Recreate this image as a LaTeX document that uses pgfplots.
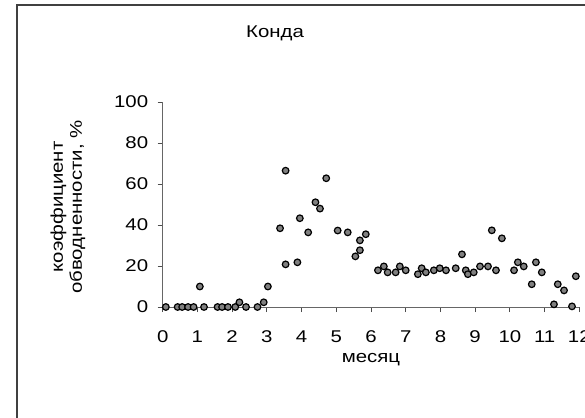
\documentclass[border=0pt]{standalone}
\usepackage{fontspec}
\setmainfont[FakeStretch=1.2]{Liberation Sans}
\usepackage{pgfplots}
\pgfplotsset{compat=1.18}

\pgfplotstableread{
x y
0.09 0
0.43 0
0.56 0
0.73 0
0.89 0
1.07 10
1.19 0
1.58 0
1.71 0
1.88 0
2.09 0
2.21 2.3
2.40 0
2.73 0
2.91 2.3
3.03 10
3.38 38.4
3.54 20.8
3.54 66.5
3.88 21.8
3.95 43.3
4.19 36.4
4.40 51.1
4.53 48
4.71 62.8
5.04 37.3
5.33 36.4
5.55 24.7
5.68 32.5
5.68 27.7
5.85 35.5
6.20 17.9
6.37 19.8
6.48 16.9
6.71 16.9
6.83 19.8
7.00 17.9
7.35 16.0
7.46 18.9
7.58 16.9
7.81 17.9
7.98 18.9
8.16 17.9
8.44 18.9
8.62 25.7
8.73 17.9
8.79 16.0
8.96 16.9
9.14 19.8
9.37 19.8
9.48 37.4
9.60 17.9
9.77 33.5
10.12 17.9
10.23 21.8
10.40 19.8
10.63 11.1
10.75 21.8
10.92 16.9
11.27 1.3
11.38 11.1
11.56 8.1
11.79 0.3
11.90 15.0
}\konda

\begin{document}
\begin{tikzpicture}
\clip (0pt,0pt) rectangle (585pt,417pt);
\useasboundingbox (0pt,0pt) rectangle (585pt,417pt);
\fill[white] (0pt,0pt) rectangle (585pt,417pt);
\draw[line width=1.5pt, black!75] (17pt,412pt) rectangle (620pt,-20pt);
\node[font=\fontsize{17}{19}\selectfont] at (275pt,384pt) {Конда};
\node[font=\fontsize{17}{19}\selectfont, rotate=90, align=center] at (68pt,210pt)
  {коэффициент\\обводненности, \%};
\begin{axis}[
  at={(162.7pt,110pt)}, anchor=south west,
  scale only axis, width=416.6pt, height=205pt,
  xmin=0, xmax=12, ymin=0, ymax=100,
  axis lines*=left,
  axis line style={black!60, line width=0.9pt},
  xtick={0,1,...,12}, ytick={0,20,...,100},
  tick style={black!70, line width=0.9pt},
  tick align=outside,
  major tick length=5pt,
  ticklabel style={font=\fontsize{17}{19}\selectfont},
  xticklabel style={yshift=-15pt},
  yticklabel style={xshift=-6pt},
  /pgf/number format/assume math mode=true,
  xlabel={месяц},
  xlabel style={font=\fontsize{17}{19}\selectfont, yshift=-4pt},
  clip=false,
]
\addplot[only marks, mark=*, mark size=3.3pt,
  mark options={fill=black!50, draw=black, line width=1.2pt}] table[x=x,y=y] {\konda};
\end{axis}
\end{tikzpicture}
\end{document}
